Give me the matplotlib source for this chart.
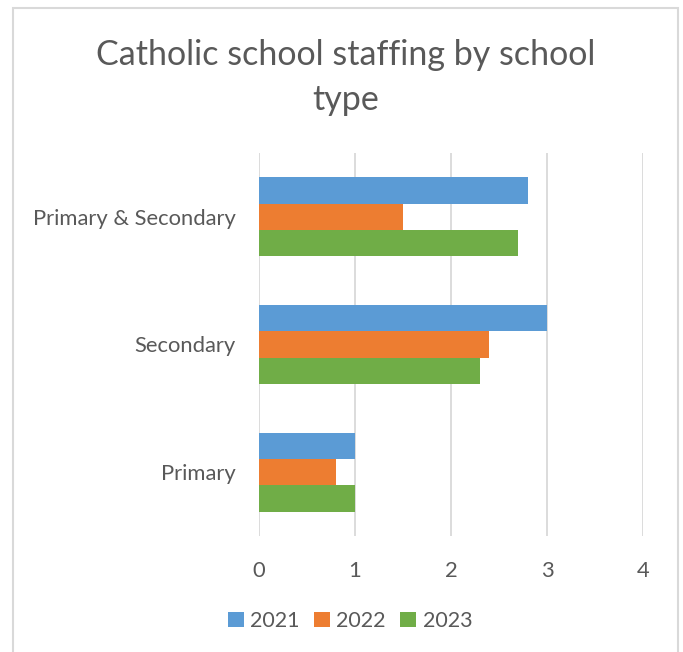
import matplotlib.pyplot as plt
import numpy as np
from matplotlib.patches import Rectangle

plt.rcParams['font.family'] = ['Lato', 'DejaVu Sans']

categories = ['Primary', 'Secondary', 'Primary & Secondary']
years = ['2021', '2022', '2023']
staff_2021 = [1.0, 3.0, 2.8]
staff_2022 = [0.8, 2.4, 1.5]
staff_2023 = [1.0, 2.3, 2.7]

colors = ['#5B9BD5', '#ED7D31', '#70AD47']
text_color = '#595959'
grid_color = '#D9D9D9'

fig = plt.figure(figsize=(6.83, 6.52), dpi=100)
# light chart-area frame
fig.patches.append(Rectangle((13 / 683, -0.02), 665 / 683, 1 - 8 / 652 + 0.02,
                             transform=fig.transFigure, fill=False,
                             edgecolor='#D9D9D9', linewidth=1.5))

ax = fig.add_axes([259 / 683, 1 - 536 / 652, 384 / 683, 383 / 652])

y = np.arange(len(categories))
h = 0.206
for i, (vals, lab) in enumerate(zip([staff_2021, staff_2022, staff_2023], years)):
    ax.barh(y + (1 - i) * h, vals, height=h, color=colors[i], label=lab, zorder=3)

ax.set_xlim(0, 4)
ax.set_ylim(-0.5, 2.5)
ax.set_xticks(range(5))
ax.set_yticks(y)
ax.set_yticklabels(categories)
ax.xaxis.grid(True, color=grid_color, linewidth=1.3, zorder=0)
for s in ax.spines.values():
    s.set_visible(False)
ax.tick_params(axis='both', length=0, labelsize=15.8, labelcolor=text_color)
ax.tick_params(axis='x', pad=18)
ax.tick_params(axis='y', pad=17)

fig.suptitle('Catholic school staffing by school\ntype', x=346 / 683, y=1 - 39 / 652,
             fontsize=24.5, color=text_color, linespacing=1.5, va='top')

fig.legend(loc='center', bbox_to_anchor=(350 / 683, 1 - 621 / 652), ncol=3,
           frameon=False, fontsize=15.5, labelcolor=text_color,
           handlelength=0.75, handleheight=0.75, handletextpad=0.3, columnspacing=0.65)

fig.savefig('out.png', dpi=100)
